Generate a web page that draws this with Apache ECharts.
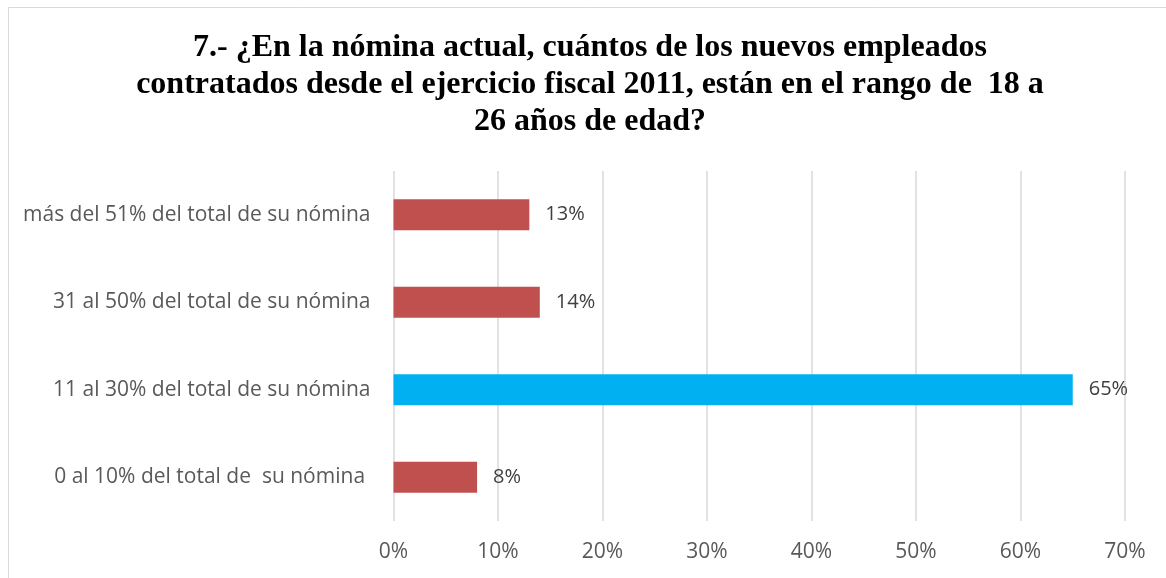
<!DOCTYPE html>
<html>
<head>
<meta charset="utf-8">
<script src="https://cdn.jsdelivr.net/npm/echarts@6/dist/echarts.min.js"></script>
<style>
html,body{margin:0;padding:0;background:#fff;}
#c{width:1166px;height:578px;}
</style>
</head>
<body>
<div id="c"></div>
<script>
const titleText = "7.- ¿En la nómina actual, cuántos de los nuevos empleados\ncontratados desde el ejercicio fiscal 2011, están en el rango de  18 a\n26 años de edad?";
const categories = ["0 al 10% del total de  su nómina ", "11 al 30% del total de su nómina", "31 al 50% del total de su nómina", "más del 51% del total de su nómina"];
const values = [8, 65, 14, 13];
const highlightIndex = 1;
const xTicks = [0, 10, 20, 30, 40, 50, 60, 70];

const chart = echarts.init(document.getElementById('c'), null, {renderer: 'canvas'});
chart.setOption({
  animation: false,
  backgroundColor: '#ffffff',
  graphic: [{
    type: 'rect',
    shape: {x: 8.5, y: 7.5, width: 1200, height: 600},
    style: {fill: 'none', stroke: '#d9d9d9', lineWidth: 1},
    silent: true
  }],
  title: {
    text: titleText,
    left: 585, textAlign: 'center',
    top: 24,
    textStyle: {
      fontFamily: 'Liberation Serif', fontWeight: 'bold', fontSize: 32,
      lineHeight: 37, color: '#000000'
    }
  },
  grid: {left: 393.5, right: 41, top: 171, bottom: 57, containLabel: false},
  xAxis: {
    type: 'value', min: 0, max: 70, interval: 10,
    axisLine: {show: false}, axisTick: {show: false},
    splitLine: {show: true, lineStyle: {color: '#d9d9d9', width: 1.5}},
    axisLabel: {
      formatter: v => xTicks.includes(v) ? v + '%' : '',
      fontFamily: 'Open Sans', fontSize: 21, color: '#595959', margin: 21
    }
  },
  yAxis: {
    type: 'category', data: categories,
    axisLine: {show: false}, axisTick: {show: false},
    axisLabel: {fontFamily: 'Open Sans', fontSize: 21, color: '#595959', margin: 23}
  },
  series: [{
    type: 'bar',
    data: values.map((v, i) => ({value: v, itemStyle: {color: i === highlightIndex ? '#00B0F0' : '#C0504D'}})),
    barWidth: 31,
    label: {
      show: true, position: 'right', distance: 16,
      formatter: p => p.value + '%',
      fontFamily: 'Open Sans', fontSize: 20, color: '#404040'
    }
  }]
});
</script>
</body>
</html>
